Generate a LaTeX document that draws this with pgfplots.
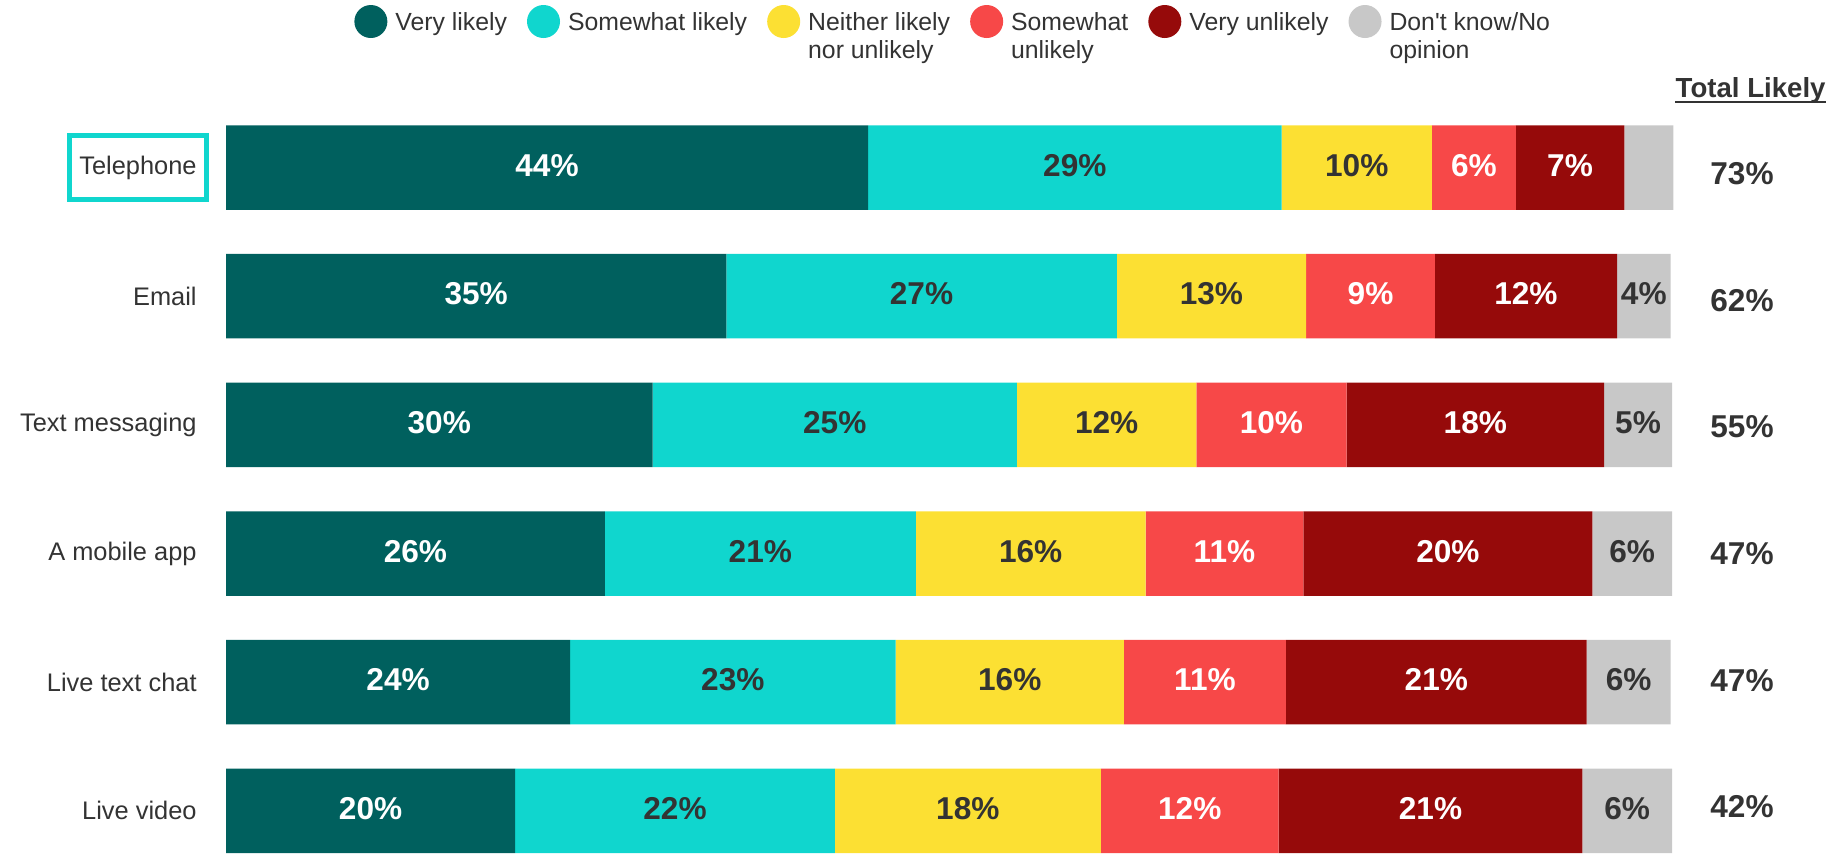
\documentclass[border=0pt]{standalone}
\usepackage{fontspec}
\setmainfont{Liberation Sans}
\usepackage{pgfplots}
\pgfplotsset{compat=1.18}
\definecolor{vl}{HTML}{00605E}
\definecolor{sl}{HTML}{10D6CE}
\definecolor{nn}{HTML}{FCE033}
\definecolor{su}{HTML}{F74848}
\definecolor{vu}{HTML}{960A0A}
\definecolor{dk}{HTML}{C8C8C8}
\definecolor{tx}{HTML}{333333}
\pgfplotsset{legcirc/.style={legend image code/.code={\fill[##1] (8.25pt,4.4pt) circle (8.25pt);}}}
\tikzset{lw/.style={font=\fontsize{15.8}{18}\selectfont\bfseries, text=white, yshift=1.2pt},
         ld/.style={font=\fontsize{15.8}{18}\selectfont\bfseries, text=tx, yshift=1.2pt},
         lt/.style={font=\fontsize{15.8}{18}\selectfont\bfseries, text=tx}}
\begin{document}
\begin{tikzpicture}
\useasboundingbox (0,0) rectangle (919.5pt,426.5pt);
\begin{axis}[
  at={(113pt,0pt)}, anchor=south west,
  scale only axis, width=723pt, height=374.9pt,
  xbar stacked, bar width=42.25pt,
  xmin=0, xmax=100,
  ymin=-0.5, ymax=5.3275, y dir=reverse,
  xtick=\empty,
  axis line style={draw=none},
  tick style={draw=none},
  major tick length=0pt,
  ytick={1,2,3,4,5},
  yticklabels={Email,Text messaging,A mobile app,Live text chat,Live video},
  yticklabel style={font=\fontsize{12.7}{15}\selectfont, text=tx, anchor=east, inner sep=0pt, xshift=-14.5pt},
  extra y ticks={0},
  extra y tick labels={Telephone},
  extra y tick style={yticklabel style={xshift=6pt, draw=sl, line width=2.5pt, minimum width=68.5pt, minimum height=32pt}},
  clip=false,
  legend columns=6,
  legend cell align=left,
  legend style={draw=none, at={(0.0885,1.1315)}, anchor=north west, inner sep=0pt,
    font=\fontsize{12.4}{14}\selectfont, text=tx, cells={anchor=base west},
    /tikz/every odd column/.append style={column sep=2pt},
    /tikz/every even column/.append style={column sep=8pt}},
]
\addplot[fill=vl, draw=none, legcirc] coordinates {(44.4,0) (34.6,1) (29.5,2) (26.2,3) (23.8,4) (20.0,5)};
\addlegendentry{Very likely}
\addplot[fill=sl, draw=none, legcirc] coordinates {(28.6,0) (27.0,1) (25.2,2) (21.5,3) (22.5,4) (22.1,5)};
\addlegendentry{Somewhat likely}
\addplot[fill=nn, draw=none, legcirc] coordinates {(10.4,0) (13.1,1) (12.4,2) (15.9,3) (15.8,4) (18.4,5)};
\addlegendentry{\begin{tabular}[t]{@{}l@{}}Neither likely\\nor unlikely\end{tabular}}
\addplot[fill=su, draw=none, legcirc] coordinates {(5.8,0) (8.9,1) (10.4,2) (10.9,3) (11.2,4) (12.3,5)};
\addlegendentry{\begin{tabular}[t]{@{}l@{}}Somewhat\\unlikely\end{tabular}}
\addplot[fill=vu, draw=none, legcirc] coordinates {(7.5,0) (12.6,1) (17.8,2) (20.0,3) (20.8,4) (21.0,5)};
\addlegendentry{Very unlikely}
\addplot[fill=dk, draw=none, legcirc] coordinates {(3.4,0) (3.7,1) (4.7,2) (5.5,3) (5.8,4) (6.2,5)};
\addlegendentry{\begin{tabular}[t]{@{}l@{}}Don\textquotesingle t know/No\\opinion\end{tabular}}
% anchor points for segment labels (centre of each segment)
\coordinate (a1) at (axis cs:22.2,0);  \coordinate (a2) at (axis cs:58.7,0);  \coordinate (a3) at (axis cs:78.2,0);
\coordinate (a4) at (axis cs:86.3,0);  \coordinate (a5) at (axis cs:92.95,0);
\coordinate (b1) at (axis cs:17.3,1);  \coordinate (b2) at (axis cs:48.1,1);  \coordinate (b3) at (axis cs:68.15,1);
\coordinate (b4) at (axis cs:79.15,1); \coordinate (b5) at (axis cs:89.9,1);  \coordinate (b6) at (axis cs:98.05,1);
\coordinate (c1) at (axis cs:14.75,2); \coordinate (c2) at (axis cs:42.1,2);  \coordinate (c3) at (axis cs:60.9,2);
\coordinate (c4) at (axis cs:72.3,2);  \coordinate (c5) at (axis cs:86.4,2);  \coordinate (c6) at (axis cs:97.65,2);
\coordinate (d1) at (axis cs:13.1,3);  \coordinate (d2) at (axis cs:36.95,3); \coordinate (d3) at (axis cs:55.65,3);
\coordinate (d4) at (axis cs:69.05,3); \coordinate (d5) at (axis cs:84.5,3);  \coordinate (d6) at (axis cs:97.25,3);
\coordinate (e1) at (axis cs:11.9,4);  \coordinate (e2) at (axis cs:35.05,4); \coordinate (e3) at (axis cs:54.2,4);
\coordinate (e4) at (axis cs:67.7,4);  \coordinate (e5) at (axis cs:83.7,4);  \coordinate (e6) at (axis cs:97.0,4);
\coordinate (f1) at (axis cs:10.0,5);  \coordinate (f2) at (axis cs:31.05,5); \coordinate (f3) at (axis cs:51.3,5);
\coordinate (f4) at (axis cs:66.65,5); \coordinate (f5) at (axis cs:83.3,5);  \coordinate (f6) at (axis cs:96.9,5);
\coordinate (t0) at (axis cs:104.84,0.051); \coordinate (t1) at (axis cs:104.84,1.034); \coordinate (t2) at (axis cs:104.84,2.017);
\coordinate (t3) at (axis cs:104.84,3.001); \coordinate (t4) at (axis cs:104.84,3.984); \coordinate (t5) at (axis cs:104.84,4.967);
\end{axis}
\node[lw] at (a1) {44\%}; \node[ld] at (a2) {29\%}; \node[ld] at (a3) {10\%}; \node[lw] at (a4) {6\%}; \node[lw] at (a5) {7\%};
\node[lw] at (b1) {35\%}; \node[ld] at (b2) {27\%}; \node[ld] at (b3) {13\%}; \node[lw] at (b4) {9\%}; \node[lw] at (b5) {12\%}; \node[ld] at (b6) {4\%};
\node[lw] at (c1) {30\%}; \node[ld] at (c2) {25\%}; \node[ld] at (c3) {12\%}; \node[lw] at (c4) {10\%}; \node[lw] at (c5) {18\%}; \node[ld] at (c6) {5\%};
\node[lw] at (d1) {26\%}; \node[ld] at (d2) {21\%}; \node[ld] at (d3) {16\%}; \node[lw] at (d4) {11\%}; \node[lw] at (d5) {20\%}; \node[ld] at (d6) {6\%};
\node[lw] at (e1) {24\%}; \node[ld] at (e2) {23\%}; \node[ld] at (e3) {16\%}; \node[lw] at (e4) {11\%}; \node[lw] at (e5) {21\%}; \node[ld] at (e6) {6\%};
\node[lw] at (f1) {20\%}; \node[ld] at (f2) {22\%}; \node[ld] at (f3) {18\%}; \node[lw] at (f4) {12\%}; \node[lw] at (f5) {21\%}; \node[ld] at (f6) {6\%};
\node[lt] at (t0) {73\%}; \node[lt] at (t1) {62\%}; \node[lt] at (t2) {55\%};
\node[lt] at (t3) {47\%}; \node[lt] at (t4) {47\%}; \node[lt] at (t5) {42\%};
\node[inner sep=0pt, font=\fontsize{13.8}{16}\selectfont\bfseries, text=tx] (TL) at (875.3pt,381.5pt) {Total Likely};
\draw[tx, line width=1.2pt] ([yshift=-2.4pt]TL.base west) -- ([yshift=-2.4pt]TL.base east);
\end{tikzpicture}
\end{document}
